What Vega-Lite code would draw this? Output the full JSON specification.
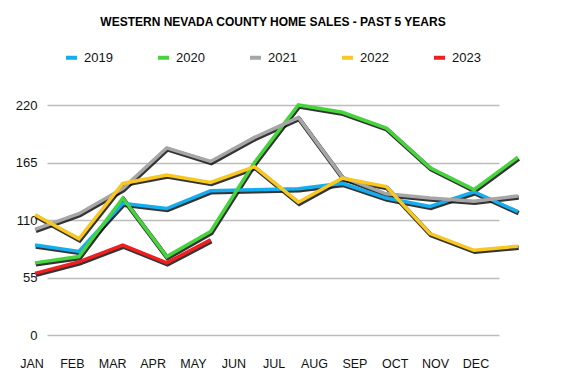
{
  "$schema": "https://vega.github.io/schema/vega-lite/v6.json",
  "width": 452,
  "height": 230,
  "autosize": "none",
  "padding": {"left": 47, "top": 105, "right": 72, "bottom": 53},
  "background": "white",
  "title": {
    "text": "WESTERN NEVADA COUNTY HOME SALES - PAST 5 YEARS",
    "font": "Liberation Sans",
    "fontSize": 12,
    "fontWeight": "bold",
    "color": "#000000",
    "anchor": "middle",
    "frame": "group",
    "offset": 21
  },
  "config": {
    "view": {"stroke": null},
    "axis": {"labelFont": "Liberation Sans", "labelFontSize": 13, "labelColor": "#111111"}
  },
  "datasets": {
    "months": [
      {"m": 1, "label": "JAN", "pos": -28}, {"m": 2, "label": "FEB", "pos": -28}, {"m": 3, "label": "MAR", "pos": -28},
      {"m": 4, "label": "APR", "pos": -28}, {"m": 5, "label": "MAY", "pos": -28}, {"m": 6, "label": "JUN", "pos": -28},
      {"m": 7, "label": "JUL", "pos": -28}, {"m": 8, "label": "AUG", "pos": -28}, {"m": 9, "label": "SEP", "pos": -28},
      {"m": 10, "label": "OCT", "pos": -28}, {"m": 11, "label": "NOV", "pos": -28}, {"m": 12, "label": "DEC", "pos": -28}
    ],
    "sales": [
      {"year": "2019", "m": 1, "sales": 86}, {"year": "2019", "m": 2, "sales": 80}, {"year": "2019", "m": 3, "sales": 126},
      {"year": "2019", "m": 4, "sales": 121}, {"year": "2019", "m": 5, "sales": 138}, {"year": "2019", "m": 6, "sales": 139},
      {"year": "2019", "m": 7, "sales": 140}, {"year": "2019", "m": 8, "sales": 145}, {"year": "2019", "m": 9, "sales": 131},
      {"year": "2019", "m": 10, "sales": 123}, {"year": "2019", "m": 11, "sales": 137}, {"year": "2019", "m": 12, "sales": 118},
      {"year": "2020", "m": 1, "sales": 69}, {"year": "2020", "m": 2, "sales": 75}, {"year": "2020", "m": 3, "sales": 131},
      {"year": "2020", "m": 4, "sales": 75}, {"year": "2020", "m": 5, "sales": 99}, {"year": "2020", "m": 6, "sales": 165},
      {"year": "2020", "m": 7, "sales": 220}, {"year": "2020", "m": 8, "sales": 213}, {"year": "2020", "m": 9, "sales": 198},
      {"year": "2020", "m": 10, "sales": 160}, {"year": "2020", "m": 11, "sales": 139}, {"year": "2020", "m": 12, "sales": 170},
      {"year": "2021", "m": 1, "sales": 101}, {"year": "2021", "m": 2, "sales": 116}, {"year": "2021", "m": 3, "sales": 140},
      {"year": "2021", "m": 4, "sales": 179}, {"year": "2021", "m": 5, "sales": 166}, {"year": "2021", "m": 6, "sales": 189},
      {"year": "2021", "m": 7, "sales": 208}, {"year": "2021", "m": 8, "sales": 151}, {"year": "2021", "m": 9, "sales": 135},
      {"year": "2021", "m": 10, "sales": 131}, {"year": "2021", "m": 11, "sales": 128}, {"year": "2021", "m": 12, "sales": 133},
      {"year": "2022", "m": 1, "sales": 115}, {"year": "2022", "m": 2, "sales": 92}, {"year": "2022", "m": 3, "sales": 145},
      {"year": "2022", "m": 4, "sales": 153}, {"year": "2022", "m": 5, "sales": 146}, {"year": "2022", "m": 6, "sales": 161},
      {"year": "2022", "m": 7, "sales": 127}, {"year": "2022", "m": 8, "sales": 150}, {"year": "2022", "m": 9, "sales": 142},
      {"year": "2022", "m": 10, "sales": 97}, {"year": "2022", "m": 11, "sales": 81}, {"year": "2022", "m": 12, "sales": 85},
      {"year": "2023", "m": 1, "sales": 59}, {"year": "2023", "m": 2, "sales": 70}, {"year": "2023", "m": 3, "sales": 86},
      {"year": "2023", "m": 4, "sales": 69}, {"year": "2023", "m": 5, "sales": 91}
    ]
  },
  "encoding": {
    "y": {
      "type": "quantitative",
      "scale": {"domain": [0, 220], "nice": false},
      "axis": {
        "title": null,
        "values": [0, 55, 110, 165, 220],
        "grid": true,
        "gridColor": "#bcbcbc",
        "gridWidth": 1.5,
        "domain": false,
        "ticks": false,
        "labelPadding": 10
      }
    }
  },
  "layer": [
    {
      "data": {"name": "months"},
      "mark": {"type": "text", "clip": false, "font": "Liberation Sans", "fontSize": 12.5, "color": "#111111", "baseline": "middle", "align": "center"},
      "encoding": {
        "x": {
          "field": "m",
          "type": "quantitative",
          "scale": {"domain": [1.372, 12.57], "nice": false, "zero": false},
          "axis": null
        },
        "y": {"field": "pos", "type": "quantitative"},
        "text": {"field": "label"}
      }
    },
    {
      "data": {"name": "sales"},
      "encoding": {
        "x": {
          "field": "m",
          "type": "quantitative",
          "scale": {"domain": [1.273, 11.57], "nice": false, "zero": false},
          "axis": null
        },
        "y": {"field": "sales", "type": "quantitative"}
      },
      "layer": [
        {
          "mark": {"type": "line", "clip": false, "stroke": "#111111", "strokeWidth": 4.5, "opacity": 0.85, "yOffset": 1.5, "xOffset": 0.8, "strokeJoin": "miter"},
          "encoding": {"detail": {"field": "year"}}
        },
        {
          "mark": {"type": "line", "clip": false, "strokeWidth": 3.5, "strokeJoin": "miter"},
          "encoding": {
            "color": {
              "field": "year",
              "type": "nominal",
              "scale": {
                "domain": ["2019", "2020", "2021", "2022", "2023"],
                "range": ["#14aef0", "#46d43c", "#a6a6a6", "#f8c820", "#f01e1e"]
              },
              "legend": {
                "title": null,
                "orient": "none",
                "direction": "horizontal",
                "columns": 5,
                "legendX": 17,
                "legendY": -55,
                "symbolType": "stroke",
                "symbolSize": 121,
                "symbolStrokeWidth": 4,
                "labelFont": "Liberation Sans",
                "labelFontSize": 13,
                "labelColor": "#111111",
                "labelOffset": 5,
                "columnPadding": 37
              }
            }
          }
        }
      ]
    }
  ],
  "resolve": {"scale": {"x": "independent"}, "axis": {"x": "independent"}}
}
